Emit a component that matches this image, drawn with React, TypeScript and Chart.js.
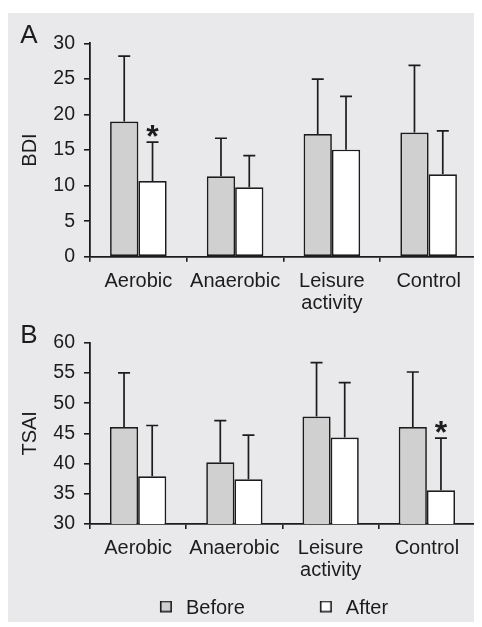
import React, { useEffect, useRef } from 'react';
import { Chart, registerables } from 'chart.js';

Chart.register(...registerables);

// ---------- data ----------
const categories: (string | string[])[] = ['Aerobic', 'Anaerobic', ['Leisure', 'activity'], 'Control'];
const seriesNames = ['Before', 'After'];

const bdiBefore = [19.0, 11.3, 17.25, 17.45];
const bdiBeforeSD = [9.2, 5.35, 7.7, 9.45];
const bdiAfter = [10.65, 9.76, 15.05, 11.6];
const bdiAfterSD = [5.45, 4.44, 7.5, 6.1];
const bdiAfterSig = [true, false, false, false];

const tsaiBefore = [46.05, 40.2, 47.8, 46.05];
const tsaiBeforeSD = [8.95, 6.9, 8.9, 9.1];
const tsaiAfter = [37.9, 37.4, 44.3, 35.57];
const tsaiAfterSD = [8.4, 7.3, 9.1, 8.63];
const tsaiAfterSig = [false, false, false, true];

const bdiAxis = [0, 30, 5]; // min, max, step
const tsaiAxis = [30, 60, 5];

// ---------- style ----------
const FONT = "'Liberation Sans', Arial, Helvetica, sans-serif";
const INK = '#1c1c1c';
const PANEL = '#e9e9eb';
const GRAY = '#d0d0d0';
const WHITE = '#ffffff';

function makeErrorPlugin(sds: number[][], sigs: (boolean[] | null)[]) {
  return {
    id: 'errorBarsAndStars',
    afterDatasetsDraw(chart: any) {
      const { ctx } = chart;
      const yScale = chart.scales.y;
      ctx.save();
      ctx.strokeStyle = INK;
      ctx.lineWidth = 1.7;
      chart.data.datasets.forEach((ds: any, di: number) => {
        const meta = chart.getDatasetMeta(di);
        const sd = sds[di];
        const sig = sigs[di];
        meta.data.forEach((bar: any, i: number) => {
          const top = yScale.getPixelForValue(ds.data[i] + sd[i]);
          const x = bar.x;
          ctx.beginPath();
          ctx.moveTo(x, bar.y);
          ctx.lineTo(x, top);
          ctx.moveTo(x - 6, top);
          ctx.lineTo(x + 6, top);
          ctx.stroke();
          if (sig && sig[i]) {
            ctx.fillStyle = INK;
            ctx.font = `bold 32px ${FONT}`;
            ctx.textAlign = 'center';
            ctx.textBaseline = 'alphabetic';
            ctx.fillText('*', x, top + 5);
          }
        });
      });
      ctx.restore();
    },
  };
}

function makeLetterPlugin(letter: string, x: number, y: number) {
  return {
    id: 'panelLetter',
    afterDraw(chart: any) {
      const { ctx } = chart;
      ctx.save();
      ctx.fillStyle = INK;
      ctx.font = `26px ${FONT}`;
      ctx.textAlign = 'left';
      ctx.textBaseline = 'alphabetic';
      ctx.fillText(letter, x, y);
      ctx.restore();
    },
  };
}

function makeSwatch(fill: string) {
  const c = document.createElement('canvas');
  c.width = 81;
  c.height = 15;
  const g = c.getContext('2d')!;
  g.fillStyle = fill;
  g.fillRect(65, 0, 11, 11);
  g.strokeStyle = INK;
  g.lineWidth = 1.6;
  g.strokeRect(65.8, 0.8, 10.4, 10.4);
  return c;
}

interface PanelCfg {
  before: number[];
  after: number[];
  sds: number[][];
  sigs: (boolean[] | null)[];
  axis: number[];
  title: string;
  letter: string;
  letterY: number;
  padTop: number;
  padRight: number;
  xHeight: number;
  legend: boolean;
}

function buildConfig(p: PanelCfg): any {
  const swatches = [makeSwatch(GRAY), makeSwatch(WHITE)];
  return {
    type: 'bar',
    data: {
      labels: categories,
      datasets: [
        {
          label: seriesNames[0],
          data: p.before,
          backgroundColor: GRAY,
          borderColor: INK,
          borderWidth: 1.7,
          borderSkipped: false,
          categoryPercentage: 0.585,
          barPercentage: 1.0,
        },
        {
          label: seriesNames[1],
          data: p.after,
          backgroundColor: WHITE,
          borderColor: INK,
          borderWidth: 1.7,
          borderSkipped: false,
          categoryPercentage: 0.585,
          barPercentage: 1.0,
        },
      ],
    },
    options: {
      responsive: true,
      maintainAspectRatio: false,
      animation: false,
      events: [],
      layout: { padding: { top: p.padTop, right: p.padRight, bottom: 0, left: 0 } },
      plugins: {
        tooltip: { enabled: false },
        title: { display: false },
        legend: {
          display: p.legend,
          position: 'bottom',
          align: 'center',
          labels: {
            color: INK,
            font: { family: FONT, size: 20 },
            usePointStyle: true,
            pointStyleWidth: 81,
            boxHeight: 20,
            padding: 10,
            generateLabels: (chart: any) => {
              const items = Chart.defaults.plugins.legend.labels.generateLabels(chart);
              return items.map((it: any, i: number) => ({ ...it, pointStyle: swatches[i] }));
            },
          },
        },
      },
      scales: {
        x: {
          type: 'category',
          afterFit: (s: any) => {
            s.height = p.xHeight;
          },
          grid: {
            offset: true,
            drawOnChartArea: false,
            drawTicks: true,
            tickLength: 5,
            color: INK,
            lineWidth: 1.6,
          },
          border: { display: true, color: INK, width: 1.8 },
          ticks: {
            color: INK,
            font: { family: FONT, size: 20, lineHeight: 1.1 },
            padding: 8.4,
            maxRotation: 0,
            minRotation: 0,
            autoSkip: false,
          },
        },
        y: {
          min: p.axis[0],
          max: p.axis[1],
          afterFit: (s: any) => {
            s.width = 82;
          },
          grid: {
            drawOnChartArea: false,
            drawTicks: true,
            tickLength: 6,
            color: INK,
            lineWidth: 1.6,
          },
          border: { display: true, color: INK, width: 1.8 },
          ticks: {
            stepSize: p.axis[2],
            color: INK,
            font: { family: FONT, size: 19.5 },
            padding: 9,
          },
          title: {
            display: true,
            text: p.title,
            color: INK,
            font: { family: FONT, size: 20, lineHeight: 1.2 },
            padding: { top: 10.7, bottom: 0 },
          },
        },
      },
    },
    plugins: [makeErrorPlugin(p.sds, p.sigs), makeLetterPlugin(p.letter, 12.2, p.letterY)],
  };
}

function ChartCanvas({ cfg }: { cfg: () => any }) {
  const ref = useRef<HTMLCanvasElement | null>(null);
  useEffect(() => {
    if (!ref.current) return;
    const chart = new Chart(ref.current, cfg());
    return () => chart.destroy();
  }, []);
  return <canvas ref={ref} />;
}

export default function App() {
  useEffect(() => {
    document.body.style.overflow = 'hidden';
  }, []);
  return (
    <div
      style={{
        position: 'relative',
        top: 5,
        width: 474,
        height: 614,
        background: PANEL,
        overflow: 'hidden',
      }}
    >
      <div style={{ position: 'absolute', left: 0, top: 0, width: 474, height: 307 }}>
        <ChartCanvas
          cfg={() =>
            buildConfig({
              before: bdiBefore,
              after: bdiAfter,
              sds: [bdiBeforeSD, bdiAfterSD],
              sigs: [null, bdiAfterSig],
              axis: bdiAxis,
              title: 'BDI',
              letter: 'A',
              letterY: 30.3,
              padTop: 30.3,
              padRight: 5,
              xHeight: 63.3,
              legend: false,
            })
          }
        />
      </div>
      <div style={{ position: 'absolute', left: 0, top: 307, width: 474, height: 308 }}>
        <ChartCanvas
          cfg={() =>
            buildConfig({
              before: tsaiBefore,
              after: tsaiAfter,
              sds: [tsaiBeforeSD, tsaiAfterSD],
              sigs: [null, tsaiAfterSig],
              axis: tsaiAxis,
              title: 'TSAI',
              letter: 'B',
              letterY: 23.3,
              padTop: 22.7,
              padRight: 7,
              xHeight: 64,
              legend: true,
            })
          }
        />
      </div>
    </div>
  );
}
